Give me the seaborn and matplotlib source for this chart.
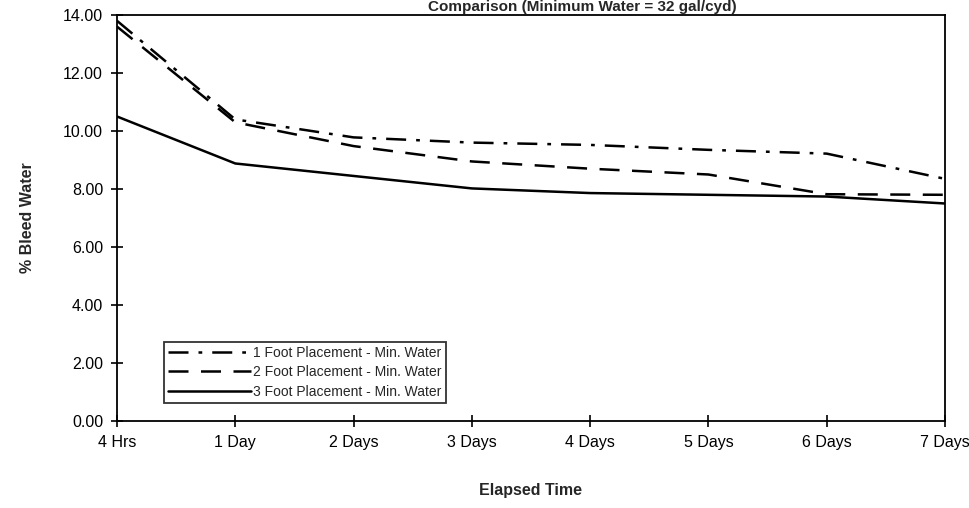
import matplotlib
matplotlib.use("Agg")
import matplotlib.pyplot as plt
import seaborn as sns
import pandas as pd

categories = ["4 Hrs", "1 Day", "2 Days", "3 Days", "4 Days", "5 Days", "6 Days", "7 Days"]
foot1 = [13.8, 10.4, 9.78, 9.6, 9.52, 9.35, 9.22, 8.35]
foot2 = [13.6, 10.3, 9.48, 8.95, 8.7, 8.5, 7.82, 7.8]
foot3 = [10.5, 8.88, 8.45, 8.02, 7.86, 7.8, 7.74, 7.5]
series_names = ["1 Foot Placement - Min. Water",
                "2 Foot Placement - Min. Water",
                "3 Foot Placement - Min. Water"]
title = "Comparison (Minimum Water = 32 gal/cyd)"

sns.set_theme(style="white")
plt.rcParams['font.family'] = ['Liberation Sans', 'DejaVu Sans']

fig = plt.figure(figsize=(9.7, 5.08), dpi=100)
ax = fig.add_axes([117/970, 1 - 421/508, (945 - 117)/970, (421 - 15)/508])

x = list(range(len(categories)))
styles = [(0, (8, 4, 1.5, 4)), (0, (8, 5)), "-"]
for vals, name, ls in zip([foot1, foot2, foot3], series_names, styles):
    df = pd.DataFrame({"x": x, "y": vals})
    sns.lineplot(data=df, x="x", y="y", ax=ax, color="black", linewidth=1.8,
                 linestyle=ls, label=name)

ax.set_xlim(0, 7)
ax.set_ylim(0, 14)
ax.set_xticks(x)
ax.set_xticklabels(categories)
ax.set_yticks([0, 2, 4, 6, 8, 10, 12, 14])
ax.set_yticklabels([f"{v:.2f}" for v in [0, 2, 4, 6, 8, 10, 12, 14]])
ax.tick_params(axis="both", direction="inout", length=8, width=1.2, labelsize=11.5,
               colors="black", bottom=True, left=True, pad=6)
for s in ax.spines.values():
    s.set_visible(True)
    s.set_color("black")
    s.set_linewidth(1.3)

ax.set_xlabel("Elapsed Time", fontsize=11.5, fontweight="bold", labelpad=24)
ax.set_ylabel("% Bleed Water", fontsize=11.5, fontweight="bold", labelpad=20)

leg = ax.legend(loc="lower left", bbox_to_anchor=(47/828, 18/406), fontsize=10,
                frameon=True, fancybox=False, edgecolor="black", handlelength=6.0,
                handletextpad=0.1, borderpad=0.3, labelspacing=0.4, borderaxespad=0)
leg.get_frame().set_linewidth(1.3)

fig.text(0.6, 1.0, title, ha="center", va="top", fontsize=11,
         fontweight="bold")

fig.savefig("out.png", dpi=100)
